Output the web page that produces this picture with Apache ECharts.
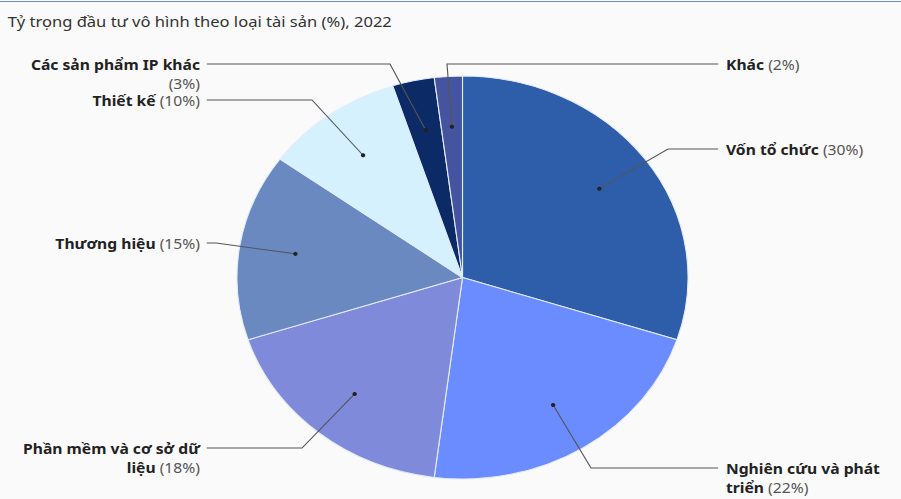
<!DOCTYPE html>
<html>
<head>
<meta charset="utf-8">
<script src="https://cdn.jsdelivr.net/npm/echarts@6/dist/echarts.min.js"></script>
<style>
  html, body { margin: 0; padding: 0; background: #fafafa; }
  #wrap { position: relative; width: 901px; height: 499px; overflow: hidden; }
  #topline { position: absolute; left: 0; top: 1px; width: 901px; height: 1px; background: #6f8fc4; }
  /* ảnh gốc bị kéo giãn theo chiều ngang, nên vẽ ở khổ hẹp rồi giãn ra */
  #chart { position: absolute; left: 0; top: 0; width: 805px; height: 499px;
           transform: scaleX(1.1193); transform-origin: 0 0; }
</style>
</head>
<body>
<div id="wrap">
  <div id="topline"></div>
  <div id="chart"></div>
</div>
<script>
// dữ liệu
const TITLE = 'Tỷ trọng đầu tư vô hình theo loại tài sản (%), 2022';
const NAMES = [
  'Vốn tổ chức',
  'Nghiên cứu và phát triển',
  'Phần mềm và cơ sở dữ liệu',
  'Thương hiệu',
  'Thiết kế',
  'Các sản phẩm IP khác',
  'Khác',
];
const VALUES = [30, 22, 18, 15, 10, 3, 2];
const COLORS = ['#2e5eaa', '#6b8cff', '#7f8bda', '#6a89c0', '#d6f1fe', '#0b2a66', '#45549f'];
// số từ ở dòng đầu của nhãn (0 = không xuống dòng)
const BREAK_AFTER = [0, 4, 6, 0, 0, 5, 0];

// bố cục nhãn (toạ độ trên ảnh): vị trí chữ và điểm gấp của đường dẫn
const LABEL_POS = [
  { side: 'right', x: 726, y: 149, elbowX: 668 },
  { side: 'right', x: 726, y: 468, elbowX: 591 },
  { side: 'left', x: 200, y: 448, elbowX: 302 },
  { side: 'left', x: 200, y: 243, elbowX: 216 },
  { side: 'left', x: 200, y: 100, elbowX: 312 },
  { side: 'left', x: 200, y: 64, elbowX: 390 },
  { side: 'right', x: 726, y: 64, elbowX: 447 },
];

const STRETCH = 1.1193;
const CX = 462.5 / STRETCH;
const CY = 277.5;
const R = 201.5;
const DOT_K = 0.75;
const LINE_H = 19;
const FONT = 'Noto Sans';

// điểm chấm bên trong mỗi lát (giữa góc của lát, 3/4 bán kính)
const total = VALUES.reduce((a, b) => a + b, 0);
let acc = 0;
const dots = VALUES.map((v) => {
  const mid = ((acc + v / 2) / total) * Math.PI * 2;
  acc += v;
  return [CX + DOT_K * R * Math.sin(mid), CY - DOT_K * R * Math.cos(mid)];
});

const pieData = NAMES.map((name, i) => ({ name, value: VALUES[i] }));

const chart = echarts.init(document.getElementById('chart'), null, { renderer: 'svg' });
chart.setOption({
  animation: false,
  color: COLORS,
  title: {
    text: TITLE,
    left: 2,
    top: 9,
    textStyle: {
      fontFamily: FONT,
      fontSize: 14.8,
      fontWeight: 'normal',
      color: '#333',
    },
  },
  graphic: dots.map((d) => ({
    type: 'circle',
    silent: true,
    z: 100,
    shape: { cx: d[0], cy: d[1], r: 2 },
    style: { fill: '#222' },
  })),
  series: [
    // các lát bánh
    {
      type: 'pie',
      z: 2,
      center: [CX, CY],
      radius: R,
      startAngle: 90,
      clockwise: true,
      silent: true,
      itemStyle: { borderColor: '#e3ecfb', borderWidth: 1 },
      label: { show: false },
      labelLine: { show: false },
      data: pieData,
    },
    // lớp trong suốt phía trên để vẽ nhãn và đường dẫn
    {
      type: 'pie',
      z: 5,
      center: [CX, CY],
      radius: R,
      startAngle: 90,
      clockwise: true,
      silent: true,
      itemStyle: { color: 'rgba(0,0,0,0)', borderWidth: 0 },
      label: {
        show: true,
        position: 'outside',
        fontFamily: FONT,
        fontSize: 14,
        lineHeight: LINE_H,
        color: '#555',
        formatter: (p) => {
          const words = p.name.split(' ');
          const n = BREAK_AFTER[p.dataIndex];
          let name = p.name;
          let sep = ' ';
          if (n && n < words.length) {
            name = words.slice(0, n).join(' ') + '\n' + words.slice(n).join(' ');
          } else if (n) {
            sep = '\n';
          }
          return `{b|${name}}${sep}{p|(${p.value}%)}`;
        },
        rich: {
          b: { fontFamily: FONT, fontSize: 14, fontWeight: 'bold', color: '#222', lineHeight: LINE_H },
          p: { fontFamily: FONT, fontSize: 14, color: '#555', lineHeight: LINE_H },
        },
      },
      labelLine: {
        show: true,
        smooth: false,
        lineStyle: { color: '#555', width: 1 },
      },
      labelLayout: (params) => {
        const i = params.dataIndex;
        const a = LABEL_POS[i];
        const right = a.side === 'right';
        const x = a.x / STRETCH;
        return {
          x: x,
          y: a.y - LINE_H / 2,
          align: right ? 'left' : 'right',
          verticalAlign: 'top',
          labelLinePoints: [
            dots[i],
            [a.elbowX / STRETCH, a.y],
            [right ? x - 7 : x + 6, a.y],
          ],
        };
      },
      data: pieData,
    },
  ],
});
</script>
</body>
</html>
